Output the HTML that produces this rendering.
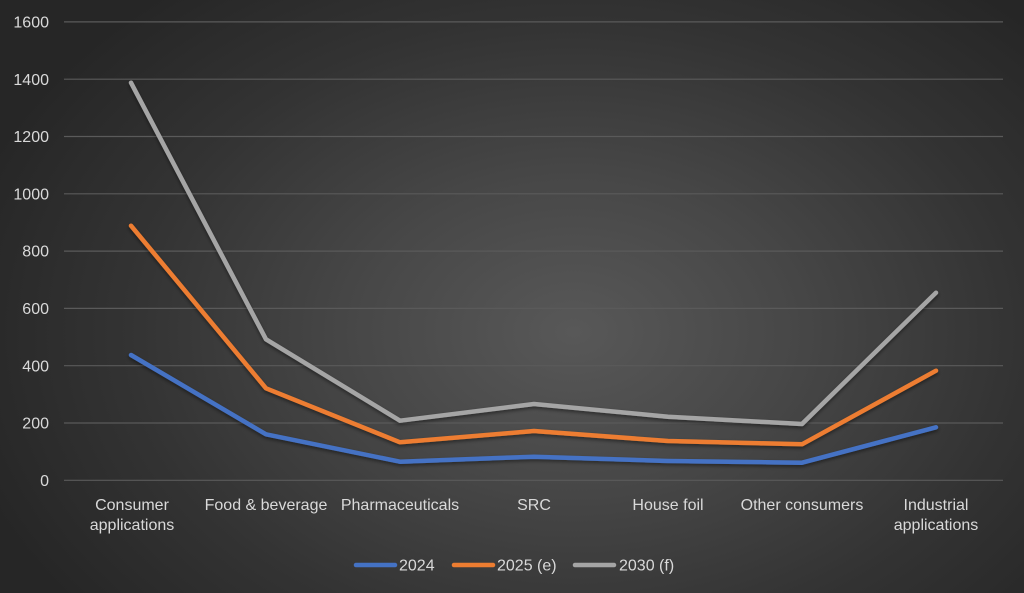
<!DOCTYPE html>
<html>
<head>
<meta charset="utf-8">
<style>
  html,body{margin:0;padding:0;}
  body{width:1024px;height:593px;overflow:hidden;
    background:radial-gradient(ellipse 62% 75% at 56% 56%, #585858 0%, #474747 35%, #333333 70%, #262626 100%);}
  svg{display:block;}
  text{font-family:"Liberation Sans", sans-serif;font-size:16px;fill:#d9d9d9;}
</style>
</head>
<body>
<svg width="1024" height="593" viewBox="0 0 1024 593" xmlns="http://www.w3.org/2000/svg">
  <defs>
    <filter id="sh" x="-10%" y="-10%" width="120%" height="130%">
      <feDropShadow dx="0" dy="2" stdDeviation="1.8" flood-color="#000" flood-opacity="0.45"/>
    </filter>
  </defs>
  <g stroke="#5a5a5a" stroke-width="1.2">
    <line x1="64" y1="21.9" x2="1003" y2="21.9"/>
    <line x1="64" y1="79.2" x2="1003" y2="79.2"/>
    <line x1="64" y1="136.5" x2="1003" y2="136.5"/>
    <line x1="64" y1="193.8" x2="1003" y2="193.8"/>
    <line x1="64" y1="251.1" x2="1003" y2="251.1"/>
    <line x1="64" y1="308.4" x2="1003" y2="308.4"/>
    <line x1="64" y1="365.7" x2="1003" y2="365.7"/>
    <line x1="64" y1="423" x2="1003" y2="423"/>
    <line x1="64" y1="480.3" x2="1003" y2="480.3"/>
  </g>
  <g text-anchor="end">
    <text x="49" y="27.5">1600</text>
    <text x="49" y="84.8">1400</text>
    <text x="49" y="142.1">1200</text>
    <text x="49" y="199.4">1000</text>
    <text x="49" y="256.7">800</text>
    <text x="49" y="314">600</text>
    <text x="49" y="371.3">400</text>
    <text x="49" y="428.6">200</text>
    <text x="49" y="485.9">0</text>
  </g>
  <g text-anchor="middle">
    <text x="132" y="510">Consumer</text>
    <text x="132" y="530">applications</text>
    <text x="266" y="510">Food &amp; beverage</text>
    <text x="400" y="510">Pharmaceuticals</text>
    <text x="534" y="510">SRC</text>
    <text x="668" y="510">House foil</text>
    <text x="802" y="510">Other consumers</text>
    <text x="936" y="510">Industrial</text>
    <text x="936" y="530">applications</text>
  </g>
  <g fill="none" stroke-width="4.5" stroke-linecap="round" stroke-linejoin="round" filter="url(#sh)">
    <polyline stroke="#a5a5a5" points="131,82.7 266,339.3 400,420.7 534,404 668,416.7 802,424 936,292.7"/>
    <polyline stroke="#ed7d31" points="131,225.7 266,388.3 400,442.3 534,431 668,441 802,444.3 936,370.7"/>
    <polyline stroke="#4472c4" points="131,355 266,434.3 400,461.7 534,456.7 668,461 802,462.7 936,427.3"/>
  </g>
  <g stroke-width="4.5" stroke-linecap="round">
    <line x1="356" y1="565" x2="395" y2="565" stroke="#4472c4"/>
    <line x1="454" y1="565" x2="493" y2="565" stroke="#ed7d31"/>
    <line x1="575" y1="565" x2="614" y2="565" stroke="#a5a5a5"/>
  </g>
  <text x="399" y="570.5">2024</text>
  <text x="497" y="570.5">2025 (e)</text>
  <text x="619" y="570.5">2030 (f)</text>
</svg>
</body>
</html>
